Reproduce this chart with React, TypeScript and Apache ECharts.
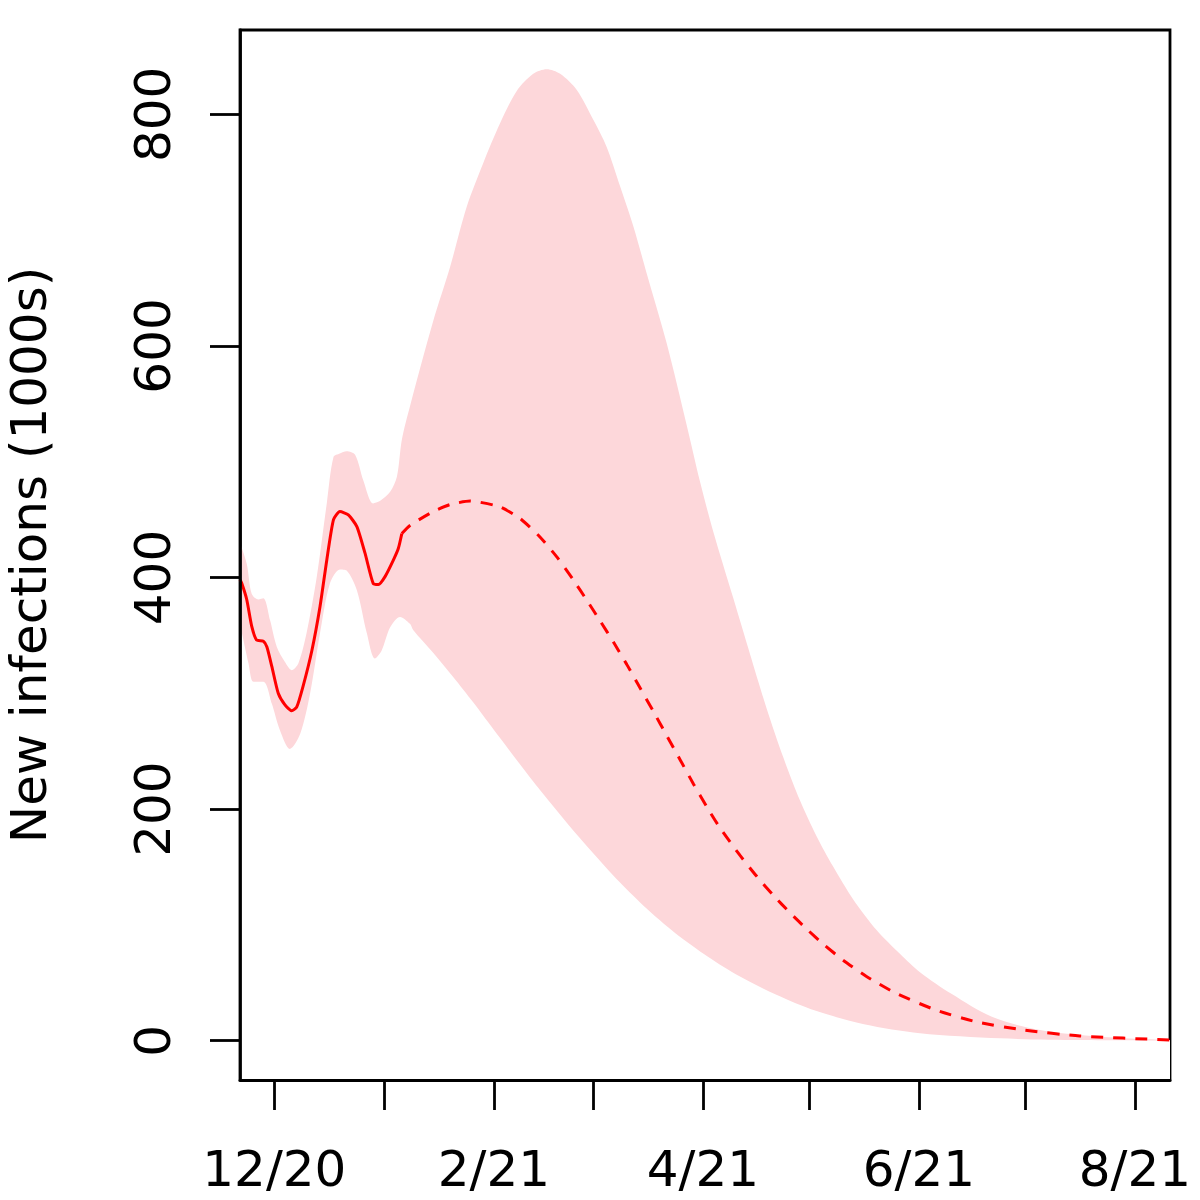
import React, { useEffect, useRef } from "react";
import * as echarts from "echarts";

// Days counted from 1 Dec 2020
const obsDays = [-9.7, -9.2, -7.8, -6.4, -5.0, -3.1, -2.1, -0.7, 1.1, 3.0, 4.9, 6.3, 8.1, 10.6, 12.9, 14.8, 16.7, 18.5, 20.9, 23.3, 25.6, 27.9, 29.4, 31.3, 33.6, 35.0, 36.0];
const obsCases = [398, 395, 381, 358, 346, 345, 340, 323, 300, 290, 285, 288, 306, 337, 375, 415, 450, 457, 454, 444, 421, 395, 394, 401, 415, 425, 438];

const projDays = [36.0, 38.3, 44.9, 49.6, 55.3, 58.1, 63.7, 69.4, 75.0, 79.7, 84.4, 88.2, 92.0, 95.7, 99.5, 103.2, 107.0, 110.8, 114.6, 118.3, 122.1, 125.8, 131.5, 136.2, 140.9, 145.6, 150.3, 155.0, 160.6, 167.2, 175.5, 186.8, 198.1, 211.7, 227.4, 253.0];
const projCases = [438, 445, 457, 463, 466, 465, 461, 451, 435, 418, 398, 380.5, 362.5, 344.5, 325, 305, 284.5, 263.5, 242.5, 222, 202, 184, 160, 142, 125.5, 110.5, 96.5, 83.5, 69.5, 55.5, 41, 26.5, 16.4, 9.2, 4.1, 0.6];

const upperDays = [-9.7, -7.8, -6.4, -4.5, -3.1, -1.2, 0.7, 3.0, 4.9, 6.8, 9.1, 12.0, 14.8, 16.7, 18.5, 20.4, 22.8, 25.1, 27.9, 29.8, 32.7, 34.6, 36.0, 38.3, 44.9, 49.6, 54.3, 59.0, 63.7, 68.4, 73.1, 76.9, 80.7, 85.4, 90.1, 93.8, 97.6, 101.4, 105.1, 110.8, 116.4, 120.2, 123.9, 129.6, 134.3, 139.0, 143.7, 148.4, 153.1, 157.7, 163.5, 170.1, 176.7, 182.3, 191.3, 202.6, 216.2, 233.1, 253.0];
const upperCases = [430, 412, 386, 381, 382, 363, 340, 327, 320, 326, 352, 401, 464, 504, 507, 509, 506, 484, 464, 466, 474, 487, 519, 548, 622, 668, 720, 758, 792, 820, 835, 839, 835, 821, 795, 772, 738, 703, 663, 602, 532, 482.6, 440, 382, 334, 287, 244.7, 207.6, 176.6, 150.8, 121.8, 95.4, 74.9, 59.2, 40.3, 20.7, 9.2, 3.5, 0.6];

const lowerDays = [-9.7, -7.3, -5.9, -3.1, -0.7, 1.6, 4.4, 7.3, 10.1, 12.9, 15.7, 18.5, 20.4, 23.3, 26.1, 28.4, 30.3, 32.7, 35.5, 38.3, 39.2, 44.9, 50.5, 56.2, 61.8, 67.5, 73.1, 78.8, 84.4, 90.1, 95.7, 103.2, 112.3, 121.3, 130.3, 141.6, 152.9, 166.5, 182.3, 204.9, 227.4, 253.0];
const lowerCases = [360, 326, 310, 310, 291, 268, 252, 265, 300, 352, 395, 407, 406, 389, 352, 330, 337, 357, 366, 360, 354.7, 334.8, 314.1, 292, 269.2, 246.2, 223.8, 202.2, 181.5, 161.6, 142.6, 119.6, 95.2, 74.9, 57.5, 39.9, 25.8, 14.2, 6.5, 2.1, 0.6, 0.2];

const monthTickDays = [0, 31, 62, 90, 121, 151, 182, 212, 243];
const labelDays = [0, 62, 121, 182, 243];
const labelTexts = ["12/20", "2/21", "4/21", "6/21", "8/21"];
const yTicks = [0, 200, 400, 600, 800];

const FONT = "DejaVu Sans";
const BAND = "#FDD7DA";
const LW = 2.8;

export default function App() {
  const ref = useRef<HTMLDivElement>(null);
  useEffect(() => {
    if (!ref.current) return;
    const chart = echarts.init(ref.current, null, { renderer: "svg" });
    const pair = (xs: number[], ys: number[]) => xs.map((x, i) => [x, ys[i]]);
    chart.setOption({
      animation: false,
      backgroundColor: "#fff",
      grid: {
        left: 240, right: 30, top: 30, bottom: 120,
        containLabel: false, outerBoundsMode: "none",
        show: true, borderColor: "#000", borderWidth: LW, backgroundColor: "transparent",
      },
      xAxis: {
        type: "value",
        min: -9.7,
        max: 252.9,
        z: 10,
        axisLine: { show: true, onZero: false, lineStyle: { color: "#000", width: LW } },
        splitLine: { show: false },
        axisTick: { show: true, length: 30, lineStyle: { color: "#000", width: LW }, customValues: monthTickDays },
        axisLabel: {
          customValues: labelDays,
          formatter: (v: number) => { const i = labelDays.indexOf(Math.round(v)); return i >= 0 ? labelTexts[i] : ""; },
          fontSize: 50, color: "#000", fontFamily: FONT, margin: 64,
        },
      },
      yAxis: {
        type: "value",
        min: -33.9,
        max: 872.8,
        z: 10,
        name: "New infections (1000s)",
        nameLocation: "middle",
        nameGap: 186,
        nameTextStyle: { fontSize: 50, color: "#000", fontFamily: FONT },
        axisLine: { show: true, onZero: false, lineStyle: { color: "#000", width: LW } },
        splitLine: { show: false },
        axisTick: { show: true, length: 30, lineStyle: { color: "#000", width: LW }, customValues: yTicks },
        axisLabel: { customValues: yTicks, rotate: 90, fontSize: 50, color: "#000", fontFamily: FONT, margin: 62 },
      },
      series: [
        {
          name: "upper",
          type: "line",
          data: pair(upperDays, upperCases),
          showSymbol: false,
          smooth: 0.3,
          clip: true,
          silent: true,
          lineStyle: { width: 0 },
          areaStyle: { color: BAND, opacity: 1, origin: "start" },
          z: 1,
        },
        {
          name: "lower",
          type: "line",
          data: pair(lowerDays, lowerCases),
          showSymbol: false,
          smooth: 0.3,
          clip: true,
          silent: true,
          lineStyle: { width: 0 },
          areaStyle: { color: "#FFFFFF", opacity: 1, origin: "start" },
          z: 2,
        },
        {
          type: "line",
          data: pair(obsDays, obsCases),
          showSymbol: false,
          smooth: 0.2,
          clip: true,
          lineStyle: { color: "#FF0000", width: 3 },
          z: 3,
        },
        {
          type: "line",
          data: pair(projDays, projCases),
          showSymbol: false,
          smooth: 0.2,
          clip: true,
          lineStyle: { color: "#FF0000", width: 3, type: [12, 10] },
          z: 3,
        },
      ],
    });
    return () => chart.dispose();
  }, []);
  return <div ref={ref} style={{ position: "absolute", left: 0, top: 0, width: 1200, height: 1200 }} />;
}
